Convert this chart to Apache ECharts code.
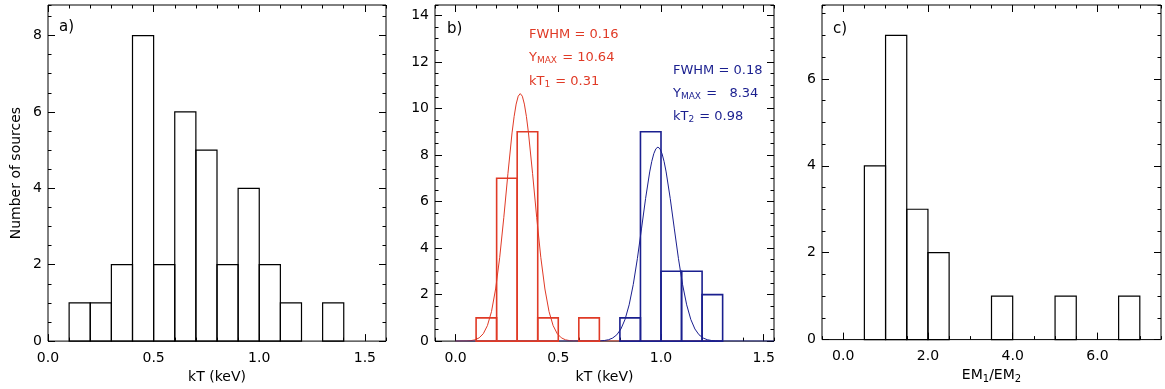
<!DOCTYPE html>
<html><head><meta charset="utf-8">
<script src="https://cdn.jsdelivr.net/npm/echarts@6/dist/echarts.min.js"></script>
<style>html,body{margin:0;padding:0;background:#fff}#c{width:1165px;height:389px}</style>
</head><body><div id="c"></div>
<script>
// ---------- Panel a: kT histogram ----------
const aBinStart = [0.1,0.2,0.3,0.4,0.5,0.6,0.7,0.8,0.9,1.0,1.1,1.2,1.3];
const aCounts   = [1,  1,  2,  8,  2,  6,  5,  2,  4,  2,  1,  0,  1];
const aBinWidth = 0.1;
// ---------- Panel b: two-component histograms ----------
const bRedStart  = [0.1,0.2,0.3,0.4,0.6];
const bRedCounts = [1,  7,  9,  1,  1];
const bBlueStart  = [0.8,0.9,1.0,1.1,1.2];
const bBlueCounts = [1,  9,  3,  3,  2];
const bBinWidth = 0.1;
// fitted curves
const redCurveX = [0.0,0.055,0.075,0.095,0.115,0.135,0.155,0.175,0.195,0.215,0.235,0.255,0.275,0.285,0.295,0.305,0.315,0.325,0.335,0.345,0.355,0.375,0.395,0.415,0.435,0.455,0.475,0.495,0.515,0.535,0.555,0.575,1.3];
const redCurveY = [0,0.007,0.021,0.056,0.14,0.318,0.665,1.27,2.24,3.60,5.32,7.20,8.95,9.65,10.19,10.53,10.64,10.53,10.19,9.65,8.95,7.20,5.32,3.60,2.24,1.27,0.665,0.318,0.14,0.056,0.021,0.007,0];
const blueCurveX = [0.0,0.685,0.705,0.725,0.745,0.765,0.785,0.805,0.825,0.845,0.865,0.885,0.905,0.925,0.945,0.955,0.965,0.975,0.985,0.995,1.005,1.015,1.025,1.045,1.065,1.085,1.105,1.125,1.145,1.165,1.185,1.205,1.225,1.245,1.265,1.285,1.55];
const blueCurveY = [0,0.004,0.010,0.026,0.060,0.133,0.272,0.521,0.933,1.559,2.432,3.544,4.823,6.129,7.273,7.722,8.059,8.269,8.34,8.269,8.059,7.722,7.273,6.129,4.823,3.544,2.432,1.559,0.933,0.521,0.272,0.133,0.060,0.026,0.010,0.004,0];
// ---------- Panel c: EM1/EM2 histogram ----------
const cBinStart = [0.5,1.0,1.5,2.0,3.5,5.0,6.5];
const cCounts   = [4,  7,  3,  2,  1,  1,  1];
const cBinWidth = 0.5;
// ---------- tick labels ----------
const aXTicks = [0.0,0.5,1.0,1.5];
const aYTicks = [0,2,4,6,8];
const bXTicks = [0.0,0.5,1.0,1.5];
const bYTicks = [0,2,4,6,8,10,12,14];
const cXTicks = [0.0,2.0,4.0,6.0];
const cYTicks = [0,2,4,6];

const RED = '#e03a26', BLUE = '#1a1f8f', INK = '#000';
const FONT = 'DejaVu Sans';

const grids = [
  {left:48, top:5, width:338, height:338},
  {left:435, top:5, width:339, height:338},
  {left:822, top:5, width:339, height:338}
].map(g => Object.assign(g, {show:true, borderColor:INK, borderWidth:1, backgroundColor:'transparent'}));

const lab = {color:INK, fontFamily:FONT, fontSize:14};

function xAxes(gi, min, max, major, minorStep, name, fmt) {
  const base = {type:'value', gridIndex:gi, min:min, max:max, splitLine:{show:false}, axisLine:{show:false, onZero:false}};
  const tl = {color:INK, width:1};
  return [
    Object.assign({}, base, {position:'bottom', name:name, nameLocation:'middle', nameGap:27,
      nameTextStyle:Object.assign({}, lab, {rich:{n:Object.assign({}, lab), s:Object.assign({}, lab, {fontSize:10, padding:[7,0,0,0]})}}),
      axisTick:{show:true, inside:true, length:7, customValues:major, lineStyle:tl},
      axisLabel:Object.assign({}, lab, {customValues:major, formatter:fmt, margin:10})}),
    Object.assign({}, base, {position:'bottom', interval:minorStep, axisTick:{show:true, inside:true, length:3.5, lineStyle:tl}, axisLabel:{show:false}}),
    Object.assign({}, base, {position:'top', axisTick:{show:true, inside:true, length:7, customValues:major, lineStyle:tl}, axisLabel:{show:false}}),
    Object.assign({}, base, {position:'top', interval:minorStep, axisTick:{show:true, inside:true, length:3.5, lineStyle:tl}, axisLabel:{show:false}})
  ];
}
function yAxes(gi, min, max, major, minorStep, name) {
  const base = {type:'value', gridIndex:gi, min:min, max:max, splitLine:{show:false}, axisLine:{show:false, onZero:false}};
  const tl = {color:INK, width:1};
  return [
    Object.assign({}, base, {position:'left', name:name, nameLocation:'middle', nameGap:25, nameTextStyle:lab,
      axisTick:{show:true, inside:true, length:7, customValues:major, lineStyle:tl},
      axisLabel:Object.assign({}, lab, {customValues:major, formatter:v => String(Math.round(v)), margin:6})}),
    Object.assign({}, base, {position:'left', interval:minorStep, axisTick:{show:true, inside:true, length:3.5, lineStyle:tl}, axisLabel:{show:false}}),
    Object.assign({}, base, {position:'right', axisTick:{show:true, inside:true, length:7, customValues:major, lineStyle:tl}, axisLabel:{show:false}}),
    Object.assign({}, base, {position:'right', interval:minorStep, axisTick:{show:true, inside:true, length:3.5, lineStyle:tl}, axisLabel:{show:false}})
  ];
}
const f1 = v => v.toFixed(1);

function histSeries(gi, starts, counts, width, color, lw) {
  return {
    type:'custom', xAxisIndex:gi*4, yAxisIndex:gi*4, z:3,
    data: starts.map((s,i) => [s, counts[i]]),
    encode:{x:0, y:1},
    renderItem: function(params, api) {
      const x0 = api.value(0), c = api.value(1);
      if (!c) return null;
      const p0 = api.coord([x0, c]);
      const p1 = api.coord([x0 + width, 0]);
      return {type:'rect', shape:{x:p0[0], y:p0[1], width:p1[0]-p0[0], height:p1[1]-p0[1]},
        style:{fill:'none', stroke:color, lineWidth:lw}};
    }
  };
}
function curveSeries(gi, xs, ys, color) {
  return {type:'line', xAxisIndex:gi*4, yAxisIndex:gi*4, z:2, showSymbol:false, symbol:'none',
    data: xs.map((x,i) => [x, ys[i]]), lineStyle:{color:color, width:1}, silent:true};
}

function annot(x, y, text, color) {
  return {type:'text', left:x, top:y, z:10, style:{text:text, fill:color, fontFamily:FONT, fontSize:13,
    rich:{n:{color:color, fontFamily:FONT, fontSize:13}, s:{color:color, fontFamily:FONT, fontSize:9, padding:[7,1,0,0]}}}};
}
function panelLabel(x, y, t) {
  return {type:'text', left:x, top:y, z:10, style:{text:t, fill:INK, fontFamily:FONT, fontSize:15}};
}

const option = {
  animation:false,
  backgroundColor:'#fff',
  grid: grids,
  xAxis: [].concat(
    xAxes(0, 0, 1.6, aXTicks, 0.1, 'kT (keV)', f1),
    xAxes(1, -0.1, 1.55, bXTicks, 0.1, 'kT (keV)', f1),
    xAxes(2, -0.5, 7.5, cXTicks, 0.5, '{n|EM}{s|1}{n|/EM}{s|2}', f1)
  ),
  yAxis: [].concat(
    yAxes(0, 0, 8.8, aYTicks, 0.5, 'Number of sources'),
    yAxes(1, 0, 14.45, bYTicks, 0.5, ''),
    yAxes(2, 0, 7.7, cYTicks, 0.5, '')
  ),
  series: [
    histSeries(0, aBinStart, aCounts, aBinWidth, INK, 1.2),
    curveSeries(1, redCurveX, redCurveY, RED),
    curveSeries(1, blueCurveX, blueCurveY, BLUE),
    histSeries(1, bRedStart, bRedCounts, bBinWidth, RED, 1.6),
    histSeries(1, bBlueStart, bBlueCounts, bBinWidth, BLUE, 1.6),
    histSeries(2, cBinStart, cCounts, cBinWidth, INK, 1.2)
  ],
  graphic: [
    panelLabel(59, 20, 'a)'),
    panelLabel(447, 22, 'b)'),
    panelLabel(833, 22, 'c)'),
    annot(529, 28, '{n|FWHM = 0.16}', RED),
    annot(529, 51, '{n|Y}{s|MAX}{n| = 10.64}', RED),
    annot(529, 75, '{n|kT}{s|1}{n| = 0.31}', RED),
    annot(673, 64, '{n|FWHM = 0.18}', BLUE),
    annot(673, 87, '{n|Y}{s|MAX}{n| =   8.34}', BLUE),
    annot(673, 110, '{n|kT}{s|2}{n| = 0.98}', BLUE)
  ]
};
const chart = echarts.init(document.getElementById('c'), null, {renderer:'canvas'});
chart.setOption(option);
</script>
</body></html>
